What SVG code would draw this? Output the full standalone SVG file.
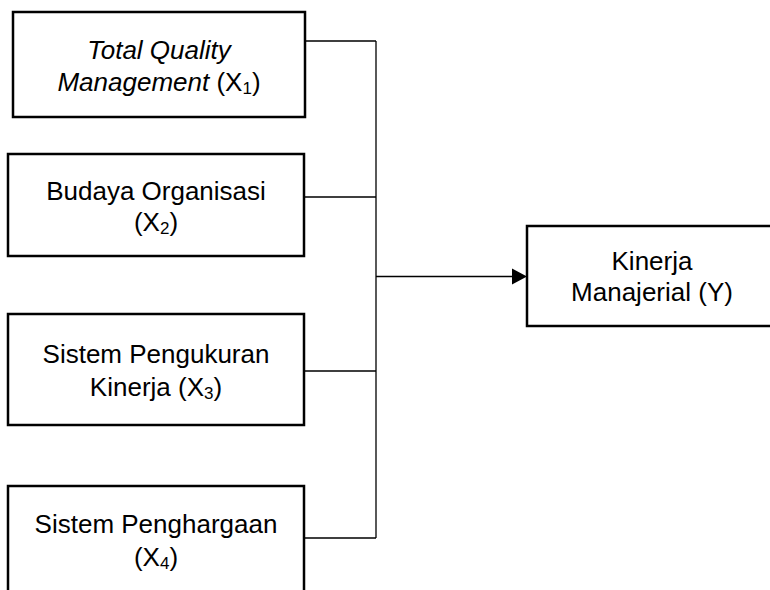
<svg xmlns="http://www.w3.org/2000/svg" width="770" height="590" viewBox="0 0 770 590">
<style>
.box{fill:#fff;stroke:#000;stroke-width:2.5}
.lbl{font-family:"Liberation Sans",Arial,sans-serif;font-size:26px;fill:#000;text-anchor:middle}
.sub{font-size:17px}
.con{fill:none;stroke:#000;stroke-width:1.3}
</style>
<rect width="770" height="590" fill="#fff"/>
<g id="connectors">
<path class="con" d="M305 41H376M304 197H376M304 371H376M304 538H376M376 41V538M376 276.5H513"/>
<polygon points="512,268.5 527,276.5 512,284.5" fill="#000"/>
</g>
<g id="x1">
<rect class="box" x="13" y="12" width="292" height="105"/>
<text class="lbl" x="159" y="59" font-style="italic">Total Quality</text>
<text class="lbl" x="159" y="91"><tspan font-style="italic">Management</tspan> (X<tspan class="sub" dy="3">1</tspan><tspan dy="-3">)</tspan></text>
</g>
<g id="x2">
<rect class="box" x="8" y="154" width="296" height="102"/>
<text class="lbl" x="156" y="200">Budaya Organisasi</text>
<text class="lbl" x="156" y="231">(X<tspan class="sub" dy="3">2</tspan><tspan dy="-3">)</tspan></text>
</g>
<g id="x3">
<rect class="box" x="8" y="314" width="296" height="111"/>
<text class="lbl" x="156" y="363">Sistem Pengukuran</text>
<text class="lbl" x="156" y="396">Kinerja (X<tspan class="sub" dy="3">3</tspan><tspan dy="-3">)</tspan></text>
</g>
<g id="x4">
<rect class="box" x="8" y="486" width="296" height="120"/>
<text class="lbl" x="156" y="533">Sistem Penghargaan</text>
<text class="lbl" x="156" y="566">(X<tspan class="sub" dy="3">4</tspan><tspan dy="-3">)</tspan></text>
</g>
<g id="y">
<rect class="box" x="527" y="226" width="260" height="100"/>
<text class="lbl" x="652" y="270">Kinerja</text>
<text class="lbl" x="652" y="301">Manajerial (Y)</text>
</g>
</svg>
